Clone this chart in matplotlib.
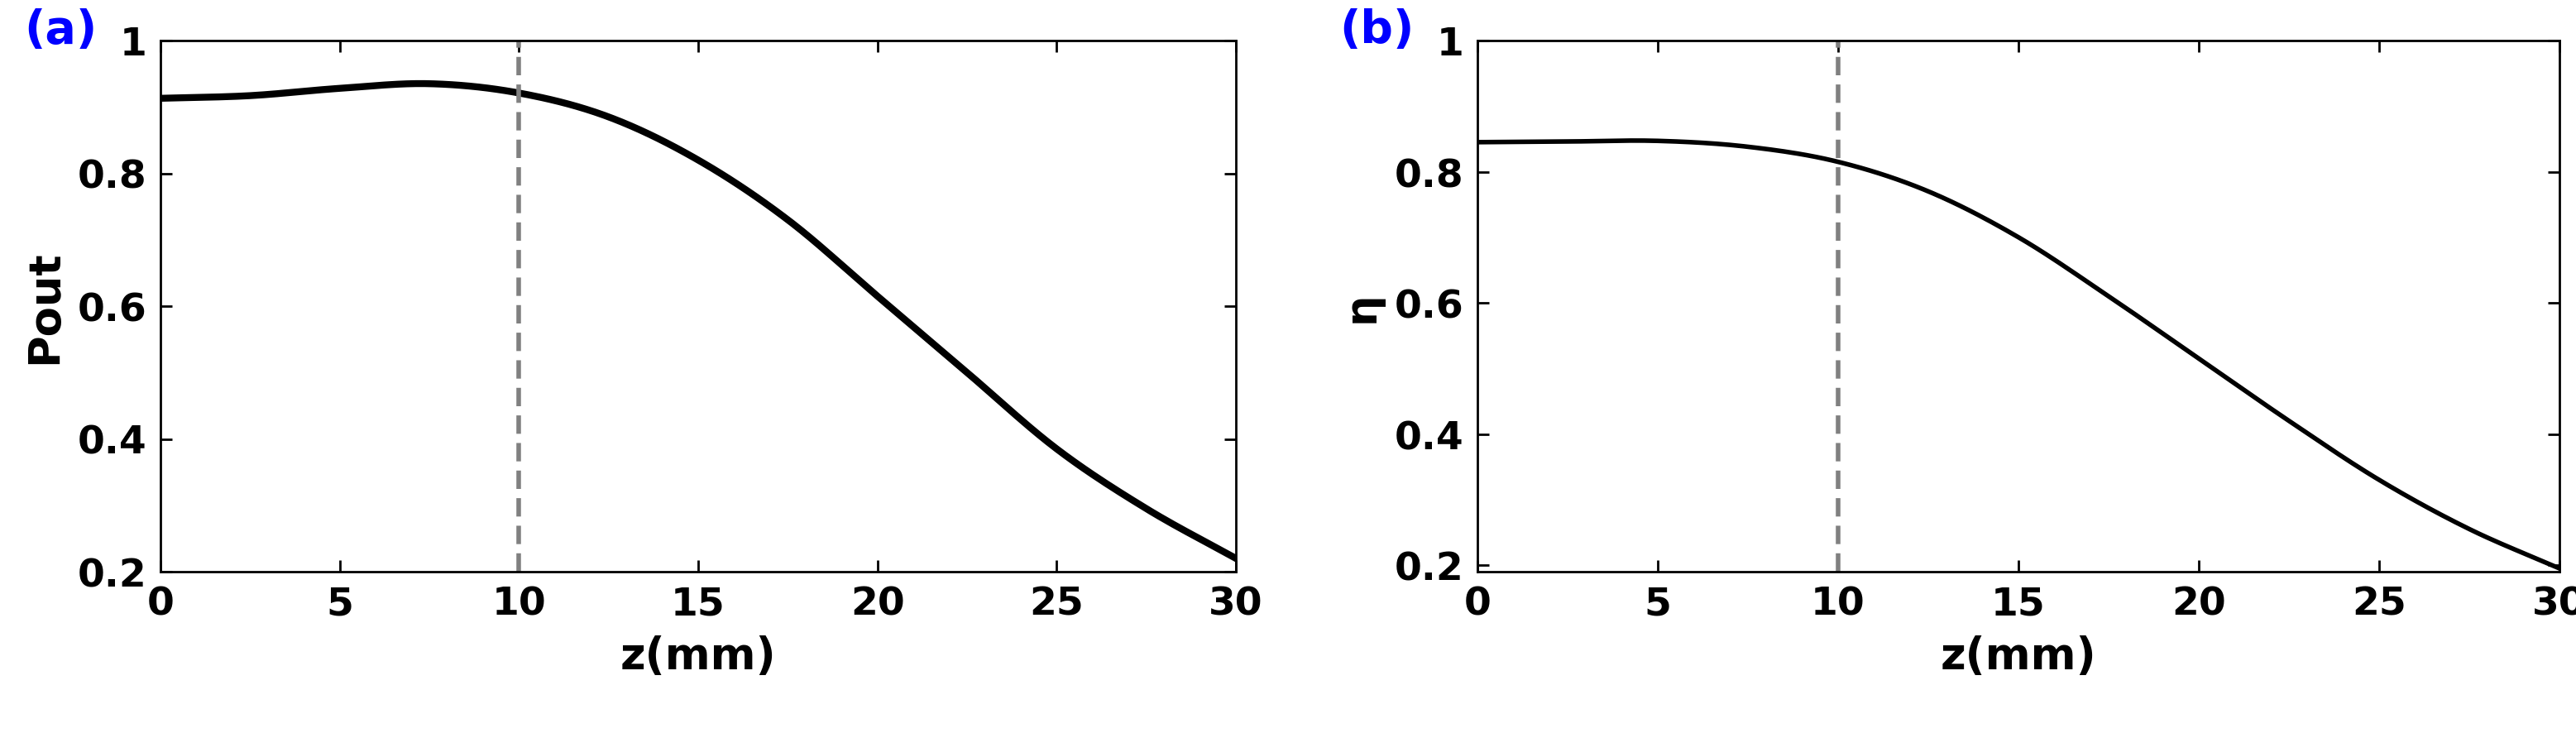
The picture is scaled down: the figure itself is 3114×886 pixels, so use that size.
import numpy as np
import matplotlib.pyplot as plt

z = [0, 2.5, 5, 7.5, 10, 12.5, 15, 17.5, 20, 22.5, 25, 27.5, 30]
pout = [0.913, 0.917, 0.928, 0.935, 0.921, 0.885, 0.82, 0.73, 0.615, 0.50, 0.385, 0.295, 0.22]
eta = [0.845, 0.846, 0.847, 0.838, 0.815, 0.77, 0.70, 0.61, 0.515, 0.42, 0.33, 0.255, 0.195]


def smooth(x, y, n=20):
    # Catmull-Rom curve through the read points
    x = np.asarray(x, float); y = np.asarray(y, float)
    px = np.concatenate([[2*x[0]-x[1]], x, [2*x[-1]-x[-2]]])
    py = np.concatenate([[2*y[0]-y[1]], y, [2*y[-1]-y[-2]]])
    xs, ys = [], []
    t = np.linspace(0, 1, n, endpoint=False)
    for i in range(1, len(px) - 2):
        for p, out in ((px, xs), (py, ys)):
            p0, p1, p2, p3 = p[i-1:i+3]
            out.extend(0.5*(2*p1 + (-p0+p2)*t + (2*p0-5*p1+4*p2-p3)*t**2 + (-p0+3*p1-3*p2+p3)*t**3))
    xs.append(x[-1]); ys.append(y[-1])
    return xs, ys


plt.rcParams['font.family'] = 'DejaVu Sans'
plt.rcParams['font.weight'] = 'bold'
plt.rcParams['axes.labelweight'] = 'bold'

fig = plt.figure(figsize=(31.14, 8.87), dpi=100)
ax1 = fig.add_axes([194/3114, 1 - 692/887, 1300/3114, 642/887])
ax2 = fig.add_axes([1786/3114, 1 - 692/887, 1308/3114, 642/887])

for ax, y, lab, tag, lw, ylo in [(ax1, pout, 'Pout', '(a)', 6, 0.2),
                                  (ax2, eta, 'η', '(b)', 4, 0.19)]:
    xs, ys = smooth(z, y)
    ax.plot(xs, ys, color='black', lw=lw)
    ax.axvline(10, color='gray', ls='--', lw=4, dashes=(4, 2))
    ax.set_xlim(0, 30)
    ax.set_ylim(ylo, 1)
    ax.set_xticks([0, 5, 10, 15, 20, 25, 30])
    ax.set_yticks([0.2, 0.4, 0.6, 0.8, 1])
    ax.set_yticklabels(['0.2', '0.4', '0.6', '0.8', '1'])
    ax.tick_params(labelsize=34, width=2, length=10, direction='in', top=True, right=True, pad=12)
    for s in ax.spines.values():
        s.set_linewidth(2)
    ax.set_xlabel('z(mm)', fontsize=38, labelpad=10)
    ax.set_ylabel(lab, fontsize=38, labelpad=10)
    ax.text(-0.093, 1.02, tag, transform=ax.transAxes, color='blue', fontsize=40,
            fontweight='bold', ha='center', va='center')

fig.savefig('out.png')
